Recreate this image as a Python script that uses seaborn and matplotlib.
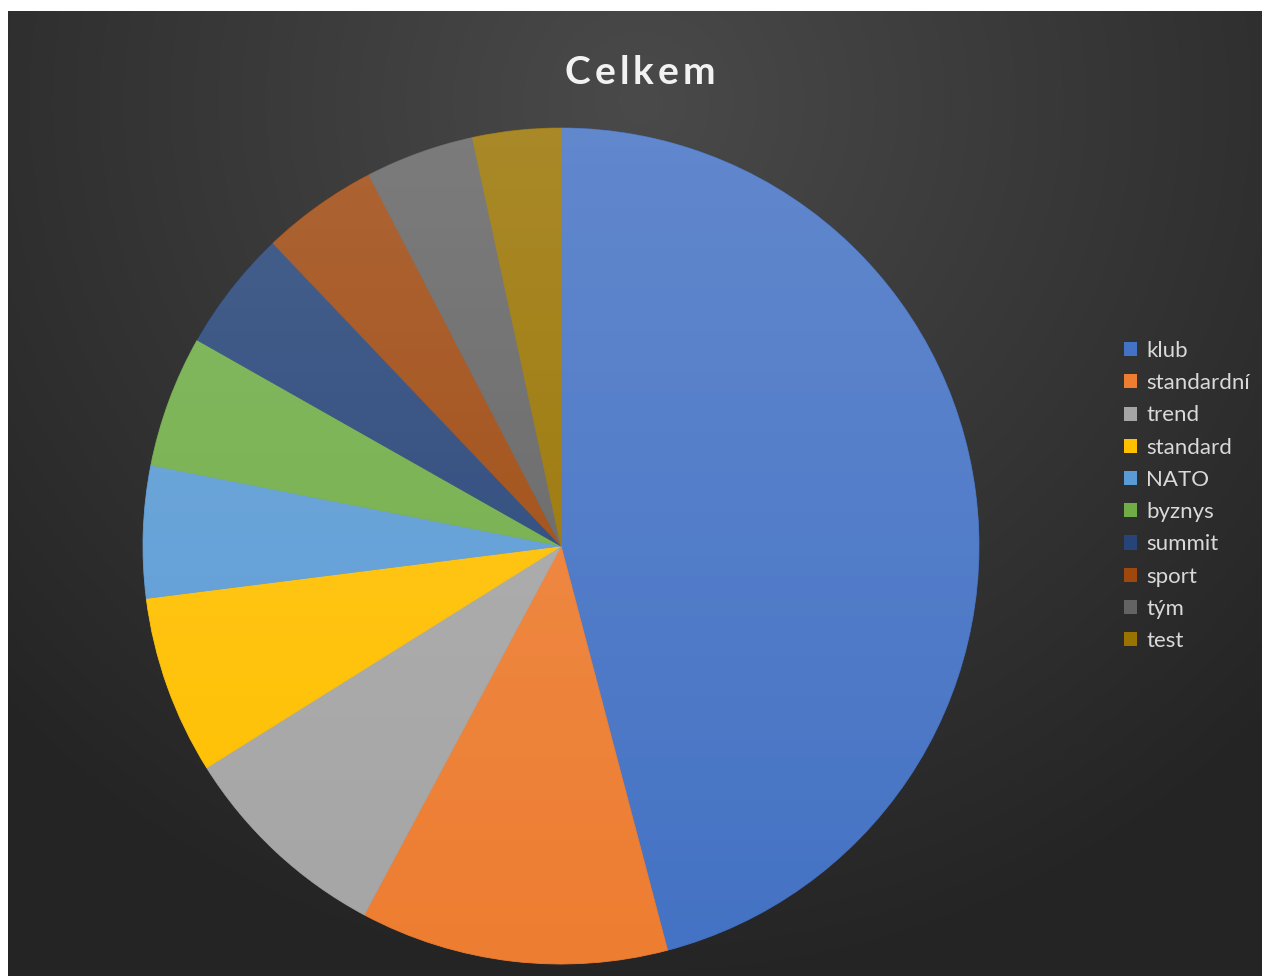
import numpy as np
import matplotlib
matplotlib.use("Agg")
import matplotlib.pyplot as plt
import seaborn as sns
from matplotlib.patches import Circle, Patch

# data (share of total, %)
labels = ["klub", "standardní", "trend", "standard", "NATO",
          "byznys", "summit", "sport", "tým", "test"]
values = [45.9, 11.9, 8.3, 6.9, 5.1, 5.1, 4.7, 4.5, 4.2, 3.4]
colors = ["#4472C4", "#ED7D31", "#A5A5A5", "#FFC000", "#5B9BD5",
          "#70AD47", "#264478", "#9E480E", "#636363", "#997300"]
title = "Celkem"

sns.set_theme(style="dark")
plt.rcParams['font.family'] = ['Lato', 'DejaVu Sans']
palette = sns.color_palette(colors)

W, H = 1262, 976
fig = plt.figure(figsize=(W / 100, H / 100), dpi=100, facecolor="white")

# dark radial gradient background
bg = fig.add_axes([8 / W, 0, 1 - 8 / W, (H - 11) / H])
yy, xx = np.mgrid[0:H - 11, 0:W - 8]
d = np.hypot(xx - 632, yy - 90) / 900
shade = np.clip(0.29 - 0.15 * d, 0.145, 0.29)
bg.imshow(np.dstack([shade] * 3), aspect="auto", interpolation="bilinear")
bg.set_axis_off()

# pie axes
cx, cy, r = 561, 546, 418
ax = fig.add_axes([(cx - r) / W, (H - cy - r) / H, 2 * r / W, 2 * r / H])
ax.set_facecolor("none")
wedges, _ = ax.pie(values, colors=palette, startangle=90, counterclock=False,
                   radius=1, wedgeprops=dict(linewidth=0.6))
for w, c in zip(wedges, palette):
    w.set_edgecolor(c)
ax.set_xlim(-1, 1)
ax.set_ylim(-1, 1)
ax.set_axis_off()

# light top-to-bottom sheen on the slices
grad = np.linspace(0.16, 0.0, 256)[:, None] * np.ones((1, 2))
sheen = np.zeros((256, 2, 4))
sheen[..., :3] = 1.0
sheen[..., 3] = grad
im = ax.imshow(sheen, extent=(-1, 1, -1, 1), aspect="auto", zorder=5,
               interpolation="bilinear", origin="upper")
im.set_clip_path(Circle((0, 0), 1, transform=ax.transData))
ax.set_xlim(-1, 1)
ax.set_ylim(-1, 1)

# title with letter spacing
renderer = fig.canvas.get_renderer()
tkw = dict(fontsize=28, fontweight="bold", color="#f2f2f2", va="center")
widths = []
for ch in title:
    t = fig.text(0, 0, ch, **tkw)
    widths.append(t.get_window_extent(renderer).width)
    t.remove()
track = 4
total = sum(widths) + track * (len(title) - 1)
x = 640 - total / 2
for ch, w in zip(title, widths):
    fig.text(x / W, 1 - 72 / H, ch, ha="left", **tkw)
    x += w + track

handles = [Patch(facecolor=c, edgecolor="none") for c in palette]
leg = fig.legend(handles, labels, loc="center left",
                 bbox_to_anchor=(1113 / W, 1 - 496 / H), frameon=False,
                 fontsize=16, labelcolor="#d9d9d9", handlelength=0.6,
                 handleheight=0.6, handletextpad=0.4, labelspacing=0.55,
                 borderpad=0)

fig.savefig("out.png", dpi=100, facecolor="white")
